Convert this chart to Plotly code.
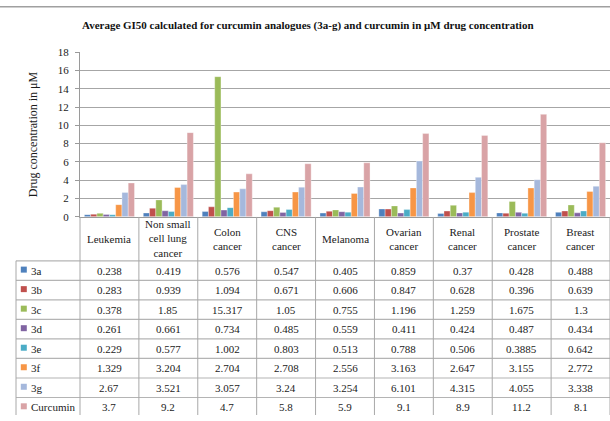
import plotly.graph_objects as go

# Cancer panels (categories) and average GI50 values (µM) per compound
categories = ["Leukemia", "Non small cell lung cancer", "Colon cancer", "CNS cancer",
              "Melanoma", "Ovarian cancer", "Renal cancer", "Prostate cancer", "Breast cancer"]
header_labels = ["Leukemia", "Non small<br>cell lung<br>cancer", "Colon<br>cancer", "CNS<br>cancer",
                 "Melanoma", "Ovarian<br>cancer", "Renal<br>cancer", "Prostate<br>cancer", "Breast<br>cancer"]

series_names = ["3a", "3b", "3c", "3d", "3e", "3f", "3g", "Curcumin"]

v_3a = [0.238, 0.419, 0.576, 0.547, 0.405, 0.859, 0.37, 0.428, 0.488]
v_3b = [0.283, 0.939, 1.094, 0.671, 0.606, 0.847, 0.628, 0.396, 0.639]
v_3c = [0.378, 1.85, 15.317, 1.05, 0.755, 1.196, 1.259, 1.675, 1.3]
v_3d = [0.261, 0.661, 0.734, 0.485, 0.559, 0.411, 0.424, 0.487, 0.434]
v_3e = [0.229, 0.577, 1.002, 0.803, 0.513, 0.788, 0.506, 0.3885, 0.642]
v_3f = [1.329, 3.204, 2.704, 2.708, 2.556, 3.163, 2.647, 3.155, 2.772]
v_3g = [2.67, 3.521, 3.057, 3.24, 3.254, 6.101, 4.315, 4.055, 3.338]
v_cur = [3.7, 9.2, 4.7, 5.8, 5.9, 9.1, 8.9, 11.2, 8.1]

# Table text exactly as printed in the data table
t_3a = ["0.238", "0.419", "0.576", "0.547", "0.405", "0.859", "0.37", "0.428", "0.488"]
t_3b = ["0.283", "0.939", "1.094", "0.671", "0.606", "0.847", "0.628", "0.396", "0.639"]
t_3c = ["0.378", "1.85", "15.317", "1.05", "0.755", "1.196", "1.259", "1.675", "1.3"]
t_3d = ["0.261", "0.661", "0.734", "0.485", "0.559", "0.411", "0.424", "0.487", "0.434"]
t_3e = ["0.229", "0.577", "1.002", "0.803", "0.513", "0.788", "0.506", "0.3885", "0.642"]
t_3f = ["1.329", "3.204", "2.704", "2.708", "2.556", "3.163", "2.647", "3.155", "2.772"]
t_3g = ["2.67", "3.521", "3.057", "3.24", "3.254", "6.101", "4.315", "4.055", "3.338"]
t_cur = ["3.7", "9.2", "4.7", "5.8", "5.9", "9.1", "8.9", "11.2", "8.1"]

y_ticks = [0, 2, 4, 6, 8, 10, 12, 14, 16, 18]

colors = ["#4F81BD", "#C0504D", "#9BBB59", "#8064A2", "#4BACC6", "#F79646", "#A5B8DC", "#D9A3A6"]

all_values = [v_3a, v_3b, v_3c, v_3d, v_3e, v_3f, v_3g, v_cur]
all_texts = [t_3a, t_3b, t_3c, t_3d, t_3e, t_3f, t_3g, t_cur]

W, H = 610, 421
FONT = "Liberation Serif"
TXT = "#1a1a1a"
LINE = "#A8A8A8"

# geometry (pixels)
plot_left = 80.0
axis_bottom_px = 217.0
axis_top_px = 47.5
header_bottom_px = 262.3
row_h = 20.1
cat_w = (W - plot_left) / len(categories)

x_idx = list(range(len(categories)))

fig = go.Figure()

for name, vals, col in zip(series_names, all_values, colors):
    fig.add_trace(go.Bar(
        x=x_idx, y=vals, name=name,
        marker=dict(color=col, line=dict(color="rgba(255,255,255,0.55)", width=0.6)),
        xaxis="x", yaxis="y", showlegend=False,
    ))

# data-table subplot (x2 aligned with the category axis, y2 in row units)
x2_min = -0.5 - plot_left / cat_w
header_rows = (header_bottom_px - axis_bottom_px) / row_h
y2_bottom = (H - header_bottom_px) / row_h

legend_left_px = 16.0
x2_legend_left = x2_min + legend_left_px / cat_w
x2_key = x2_min + 23.8 / cat_w
x2_label = x2_min + 28.5 / cat_w

# colour keys in the first table column
fig.add_trace(go.Scatter(
    x=[x2_key] * len(series_names),
    y=[i + 0.45 for i in range(len(series_names))],
    mode="markers",
    marker=dict(symbol="square", size=6, color=colors, line=dict(width=0)),
    xaxis="x2", yaxis="y2", showlegend=False, hoverinfo="skip",
))

shapes = []
# horizontal row lines
n_rows = len(series_names)
for r in range(n_rows + 1):
    shapes.append(dict(type="line", xref="x2", yref="y2", x0=x2_legend_left, x1=len(categories) - 0.5,
                       y0=r, y1=r, line=dict(color="#B4B4B4", width=1.2)))
# vertical lines at category boundaries
for k in range(len(categories) + 1):
    shapes.append(dict(type="line", xref="x2", yref="y2", x0=k - 0.5, x1=k - 0.5,
                       y0=-header_rows, y1=n_rows + 1, line=dict(color=LINE, width=1)))
# left edge of the legend column
shapes.append(dict(type="line", xref="x2", yref="y2", x0=x2_legend_left, x1=x2_legend_left,
                   y0=0, y1=n_rows + 1, line=dict(color=LINE, width=1)))
# thin rule along the top edge
shapes.append(dict(type="line", xref="paper", yref="paper", x0=0, x1=1, y0=1 - 0.8 / H, y1=1 - 0.8 / H,
                   line=dict(color="#A0A0A0", width=1.5)))

annotations = []
# header cells
for i, lab in enumerate(header_labels):
    annotations.append(dict(x=i, y=-header_rows / 2, xref="x2", yref="y2", text=lab, showarrow=False,
                            font=dict(family=FONT, size=11, color=TXT), align="center",
                            xanchor="center", yanchor="middle"))
# value cells and row labels
for r, (name, texts) in enumerate(zip(series_names, all_texts)):
    annotations.append(dict(x=x2_label, y=r + 0.5, xref="x2", yref="y2", text=name, showarrow=False,
                            font=dict(family=FONT, size=11, color=TXT), xanchor="left", yanchor="middle"))
    for i, t in enumerate(texts):
        annotations.append(dict(x=i, y=r + 0.5, xref="x2", yref="y2", text=t, showarrow=False,
                                font=dict(family=FONT, size=11, color=TXT),
                                xanchor="center", yanchor="middle"))

# title and y-axis title
annotations.append(dict(x=308 / W, y=1 - 20 / H, xref="paper", yref="paper",
                        text="<b>Average GI50 calculated for curcumin analogues (3a-g) and curcumin in μM drug concentration</b>",
                        showarrow=False, font=dict(family=FONT, size=11, color="#111"),
                        xanchor="center", yanchor="middle"))
annotations.append(dict(x=33 / W, y=1 - 132 / H, xref="paper", yref="paper",
                        text="Drug concentration in μM", textangle=-90, showarrow=False,
                        font=dict(family=FONT, size=12, color=TXT), xanchor="center", yanchor="middle"))

fig.update_layout(
    width=W, height=H,
    margin=dict(l=0, r=0, t=0, b=0),
    paper_bgcolor="white", plot_bgcolor="white",
    barmode="group", bargap=0.15, bargroupgap=0,
    xaxis=dict(domain=[plot_left / W, 1], range=[-0.5, len(categories) - 0.5],
               showticklabels=False, showgrid=False, zeroline=False,
               showline=True, linecolor="#9A9A9A", linewidth=1, ticks="", anchor="y"),
    yaxis=dict(domain=[1 - axis_bottom_px / H, 1 - axis_top_px / H], range=[0, 18],
               tickvals=y_ticks, ticktext=[str(v) for v in y_ticks],
               showgrid=True, gridcolor="#A6A6A6", gridwidth=1, zeroline=False,
               showline=True, linecolor="#9A9A9A", linewidth=1,
               ticks="outside", ticklen=4, tickcolor="#9A9A9A", ticklabelstandoff=4,
               tickfont=dict(family=FONT, size=11, color=TXT), anchor="x"),
    xaxis2=dict(domain=[0, 1], range=[x2_min, len(categories) - 0.5], visible=False,
                anchor="y2", fixedrange=True),
    yaxis2=dict(domain=[0, 1 - axis_bottom_px / H], range=[y2_bottom, -header_rows], visible=False,
                anchor="x2", fixedrange=True),
    shapes=shapes,
    annotations=annotations,
)

fig.write_html("out.html")
